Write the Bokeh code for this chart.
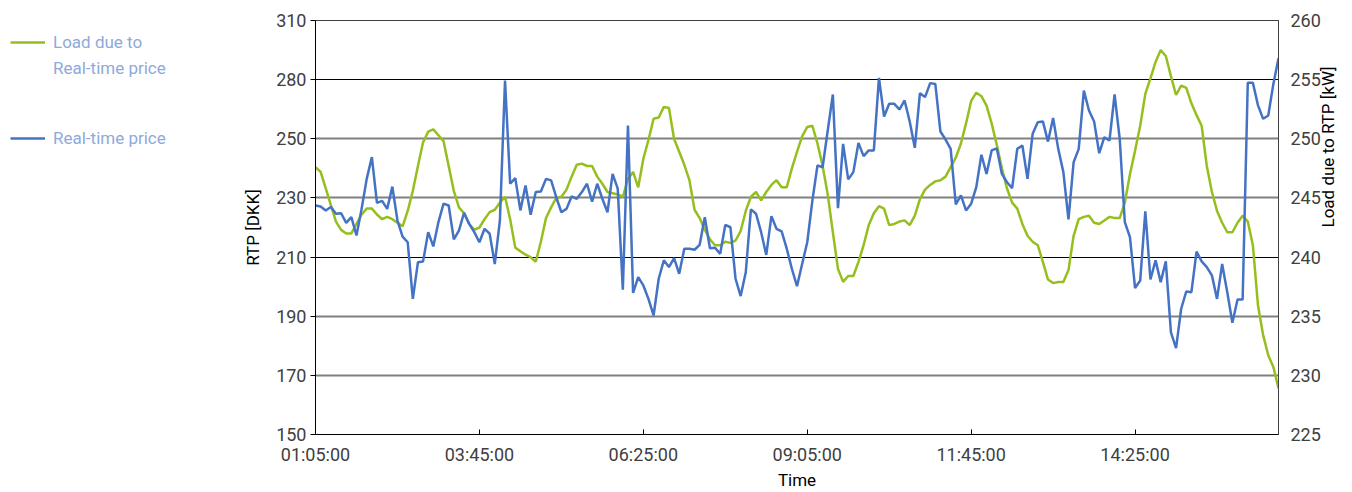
import math
from bokeh.plotting import figure
from bokeh.layouts import row
from bokeh.models import Range1d, LinearAxis, FixedTicker, Grid, Legend, LegendItem
from bokeh.embed import file_html
from bokeh.resources import INLINE

# ---- data (5-minute samples starting 01:05:00) ----
start_minute = 65
step_minutes = 5

rtp = [238.5, 238.1, 236.6, 237.9, 235.3, 235.5, 231.8, 234.0, 226.9, 237.2,
       248.8, 257.2, 239.5, 240.3, 237.2, 245.8, 232.7, 226.5, 224.3, 202.4,
       216.6, 216.9, 228.2, 222.7, 232.1, 239.2, 238.5, 225.4, 228.8, 235.7,
       231.4, 228.2, 224.3, 229.5, 227.6, 215.9, 232.7, 286.8, 246.9, 249.1,
       236.6, 246.2, 234.9, 243.7, 243.9, 248.8, 248.2, 241.7, 235.9, 237.2,
       242.0, 241.1, 243.7, 246.9, 240.0, 246.9, 241.1, 235.9, 250.7, 245.0,
       206.0, 269.4, 204.7, 210.8, 207.6, 202.4, 196.0, 210.2, 217.3, 214.7,
       218.2, 212.1, 221.8, 221.8, 221.4, 223.3, 234.0, 222.0, 222.2, 219.8,
       231.0, 230.1, 210.2, 203.5, 212.7, 237.0, 235.3, 228.2, 219.4, 234.4,
       229.5, 228.5, 221.8, 214.0, 207.3, 215.9, 224.3, 240.4, 254.0, 253.3,
       267.5, 281.4, 237.5, 262.3, 248.6, 251.4, 262.7, 257.6, 259.8, 259.8,
       287.8, 272.9, 277.8, 277.8, 275.6, 279.1, 271.0, 260.8, 281.9, 280.4,
       285.8, 285.5, 267.1, 264.0, 260.4, 238.9, 242.4, 236.6, 239.2, 245.6,
       258.1, 250.7, 259.8, 260.6, 250.7, 247.5, 245.2, 260.4, 261.7, 248.8,
       266.2, 270.7, 271.0, 263.2, 272.3, 260.4, 251.4, 233.1, 255.2, 260.4,
       282.9, 275.2, 271.0, 258.7, 264.9, 263.6, 281.4, 264.3, 232.1, 226.3,
       206.6, 209.5, 236.2, 209.9, 217.3, 208.9, 216.9, 189.5, 183.4, 198.6,
       205.3, 205.0, 220.7, 216.9, 214.7, 211.5, 202.4, 215.9, 205.0, 193.2,
       202.2, 202.2, 285.9, 285.9, 277.2, 272.0, 273.3, 285.5, 295.4]

load = [247.6, 247.2, 245.8, 244.4, 243.0, 242.3, 242.0, 242.0, 242.8, 243.6,
        244.1, 244.1, 243.6, 243.2, 243.4, 243.2, 242.9, 242.6, 243.9, 245.6,
        247.7, 249.7, 250.6, 250.8, 250.3, 249.8, 247.7, 245.6, 244.2, 243.7,
        242.8, 242.3, 242.5, 243.2, 243.8, 244.0, 244.6, 245.1, 243.2, 240.8,
        240.5, 240.2, 240.0, 239.6, 241.3, 243.3, 244.2, 245.0, 245.1, 245.7,
        246.8, 247.8, 247.9, 247.7, 247.7, 246.8, 246.2, 245.5, 245.4, 245.3,
        245.1, 246.6, 247.2, 245.9, 248.3, 249.9, 251.7, 251.8, 252.7, 252.6,
        250.0, 248.9, 247.8, 246.5, 244.0, 243.3, 242.3, 241.5, 241.0, 241.0,
        241.3, 241.2, 241.4, 242.2, 243.9, 245.1, 245.5, 244.8, 245.5, 246.1,
        246.5, 245.9, 245.9, 247.5, 248.9, 250.2, 251.0, 251.1, 249.6, 247.7,
        245.3, 242.1, 239.0, 237.9, 238.4, 238.4, 239.6, 241.0, 242.7, 243.7,
        244.3, 244.1, 242.7, 242.8, 243.0, 243.1, 242.7, 243.5, 244.9, 245.7,
        246.1, 246.4, 246.5, 246.8, 247.6, 248.4, 249.6, 251.3, 253.2, 253.9,
        253.6, 252.8, 251.3, 249.5, 247.5, 245.8, 244.6, 244.1, 242.8, 241.8,
        241.3, 241.0, 239.6, 238.1, 237.8, 237.9, 237.9, 238.9, 241.8, 243.2,
        243.4, 243.5, 242.9, 242.8, 243.1, 243.4, 243.3, 243.3, 244.6, 247.0,
        249.0, 251.1, 253.8, 255.1, 256.5, 257.5, 257.0, 255.3, 253.7, 254.5,
        254.3, 253.0, 252.0, 251.1, 247.7, 245.5, 243.9, 242.9, 242.1, 242.1,
        242.9, 243.5, 243.0, 241.0, 235.9, 233.4, 231.7, 230.7, 228.9]

time_tick_minutes = [65, 225, 385, 545, 705, 865]
time_tick_labels = ["01:05:00", "03:45:00", "06:25:00", "09:05:00", "11:45:00", "14:25:00"]

rtp_min, rtp_max = 150, 310
rtp_tick_labels = ["150", "170", "190", "210", "230", "250", "280", "310"]
load_min, load_max = 225, 260
load_ticks = [225, 230, 235, 240, 245, 250, 255, 260]

legend_load_lines = ["Load due to", "Real-time price"]
legend_rtp_label = "Real-time price"

minutes = [start_minute + step_minutes * i for i in range(len(rtp))]

# ---- styles ----
FONT = "Roboto"
GREEN = "#95BF1E"
BLUE = "#4472C4"
TOTAL_W, TOTAL_H = 1352, 492
LEG_W = 240
BORDER_TOP, BORDER_BOTTOM = 20, 58
FRAME_BOTTOM = TOTAL_H - BORDER_BOTTOM

# ---- legend panel (separate figure on the left) ----
lf = figure(width=LEG_W, height=TOTAL_H, output_backend="svg", toolbar_location=None,
            x_range=Range1d(0, 1), y_range=Range1d(0, 1),
            x_axis_type=None, y_axis_type=None,
            min_border_left=0, min_border_right=0,
            min_border_top=BORDER_TOP, min_border_bottom=BORDER_BOTTOM)
lf.outline_line_color = None
lf.xgrid.visible = False
lf.ygrid.visible = False
# proxy renderers (kept outside the visible range) that only feed the legend glyphs
lg = lf.line([5, 6], [5, 6], line_color=GREEN, line_width=2.5)
lb = lf.line([5, 6], [5, 6], line_color=BLUE, line_width=2.5)
lblank = lf.line([5, 6], [5, 6], line_alpha=0)

legend_style = dict(margin=0, padding=0, glyph_width=35, glyph_height=20, label_height=20,
                    label_standoff=8, label_text_font=FONT, label_text_font_size="17px",
                    label_text_color="#8EA9DB", border_line_color=None,
                    background_fill_alpha=0)
# location = bottom-left corner of each legend, measured up from the frame bottom
legend_load = Legend(items=[LegendItem(label=legend_load_lines[0], renderers=[lg]),
                            LegendItem(label=legend_load_lines[1], renderers=[lblank])],
                     location=(10, FRAME_BOTTOM - 78), spacing=6, **legend_style)
legend_rtp = Legend(items=[LegendItem(label=legend_rtp_label, renderers=[lb])],
                    location=(10, FRAME_BOTTOM - 148), **legend_style)
lf.add_layout(legend_load)
lf.add_layout(legend_rtp)

# ---- main chart ----
p = figure(width=TOTAL_W - LEG_W, height=TOTAL_H, output_backend="svg", toolbar_location=None,
           x_range=Range1d(minutes[0], minutes[-1]),
           y_range=Range1d(rtp_min, rtp_max),
           min_border_left=314 - LEG_W, min_border_right=74,
           min_border_top=BORDER_TOP, min_border_bottom=BORDER_BOTTOM)
p.extra_y_ranges = {"load": Range1d(load_min, load_max)}
p.xgrid.visible = False
p.ygrid.visible = False
p.outline_line_color = "#404040"
p.outline_line_width = 1

n = len(rtp_tick_labels)
rtp_tick_pos = [rtp_min + k * (rtp_max - rtp_min) / (n - 1) for k in range(n)]

black_grid = Grid(dimension=1, ticker=FixedTicker(ticks=[rtp_tick_pos[3], rtp_tick_pos[6]]),
                  grid_line_color="black", grid_line_width=1)
gray_grid = Grid(dimension=1, ticker=FixedTicker(ticks=[rtp_tick_pos[1], rtp_tick_pos[2],
                                                        rtp_tick_pos[4], rtp_tick_pos[5]]),
                 grid_line_color="#808080", grid_line_width=2)
p.add_layout(gray_grid)
p.add_layout(black_grid)

p.line(minutes, load, y_range_name="load", line_color=GREEN, line_width=2.5)
p.line(minutes, rtp, line_color=BLUE, line_width=2.5)

# x axis
xa = p.xaxis[0]
xa.ticker = FixedTicker(ticks=time_tick_minutes)
xa.major_label_overrides = {m: lab for m, lab in zip(time_tick_minutes, time_tick_labels)}
xa.axis_label = "Time"
xa.major_tick_in = 5
xa.major_tick_out = 0
xa.minor_tick_line_color = None
xa.axis_line_color = "black"
xa.major_tick_line_color = "black"
xa.major_label_standoff = 9
xa.axis_label_standoff = 2

# left axis
ya = p.yaxis[0]
ya.ticker = FixedTicker(ticks=rtp_tick_pos)
ya.major_label_overrides = {pos: lab for pos, lab in zip(rtp_tick_pos, rtp_tick_labels)}
ya.axis_label = "RTP [DKK]"
ya.major_tick_in = 0
ya.major_tick_out = 5
ya.minor_tick_line_color = None
ya.axis_line_color = "black"
ya.major_tick_line_color = "black"
ya.major_label_standoff = 4
ya.axis_label_standoff = 10

# right axis
ra = LinearAxis(y_range_name="load", ticker=FixedTicker(ticks=load_ticks),
                axis_label="Load due to RTP [kW]")
ra.major_tick_in = 0
ra.major_tick_out = 0
ra.minor_tick_line_color = None
ra.axis_line_color = "#404040"
ra.major_label_standoff = 12
ra.axis_label_standoff = 4
ra.axis_label_orientation = math.pi / 2
p.add_layout(ra, "right")

for ax in (xa, ya, ra):
    ax.major_label_text_font = FONT
    ax.major_label_text_font_size = "18px"
    ax.major_label_text_color = "#404040"
    ax.axis_label_text_font = FONT
    ax.axis_label_text_font_size = "17px"
    ax.axis_label_text_font_style = "normal"
    ax.axis_label_text_color = "black"

layout = row(lf, p, spacing=0)
open("out.html", "w").write(file_html(layout, INLINE))
